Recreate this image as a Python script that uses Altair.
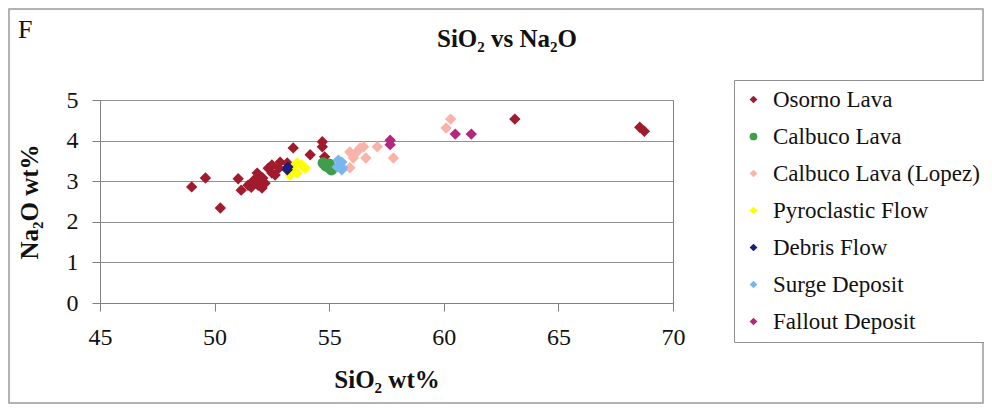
import altair as alt
import pandas as pd

SERIF = "Liberation Serif, Times New Roman, serif"

series = ["Osorno Lava", "Calbuco Lava", "Calbuco Lava (Lopez)", "Pyroclastic Flow",
          "Debris Flow", "Surge Deposit", "Fallout Deposit"]
colors = ["#A01B2D", "#3F9E4B", "#F9B3A9", "#FFFF00", "#1C1F78", "#7AB6EE", "#B2287C"]
shapes = ["diamond", "circle", "diamond", "diamond", "diamond", "diamond", "diamond"]

osorno_sio2 = [49.0, 49.6, 50.25, 51.03, 51.16, 51.46, 51.6, 51.7, 51.86, 51.9, 52.0, 52.07,
               52.1, 52.2, 52.34, 52.5, 52.5, 52.64, 52.8, 52.86, 53.17, 53.43, 54.17, 54.7,
               54.7, 54.8, 63.1, 68.55, 68.75]
osorno_na2o = [2.86, 3.08, 2.34, 3.06, 2.78, 2.9, 2.85, 3.02, 3.2, 2.9, 3.1, 2.83,
               3.08, 2.95, 3.32, 3.4, 3.2, 3.15, 3.32, 3.47, 3.45, 3.82, 3.65, 3.97,
               3.85, 3.6, 4.53, 4.33, 4.23]

calbuco_sio2 = [54.74, 54.85, 54.96, 55.0, 55.1]
calbuco_na2o = [3.45, 3.38, 3.35, 3.42, 3.28]

lopez_sio2 = [55.9, 55.9, 56.05, 56.2, 56.35, 56.5, 56.6, 57.1, 57.8, 60.1, 60.3]
lopez_na2o = [3.33, 3.72, 3.57, 3.72, 3.82, 3.85, 3.57, 3.85, 3.57, 4.31, 4.53]

pyro_sio2 = [53.3, 53.43, 53.6, 53.6, 53.8, 53.95]
pyro_na2o = [3.15, 3.35, 3.2, 3.45, 3.4, 3.32]

debris_sio2 = [53.17, 53.2]
debris_na2o = [3.28, 3.35]

surge_sio2 = [55.35, 55.4, 55.55, 55.55, 55.57]
surge_na2o = [3.35, 3.52, 3.47, 3.28, 3.33]

fallout_sio2 = [57.66, 57.66, 60.5, 61.2]
fallout_na2o = [4.01, 3.9, 4.16, 4.16]

chart_title = "SiO₂ vs Na₂O"
panel_letter = "F"

groups = [
    (series[0], osorno_sio2, osorno_na2o),
    (series[1], calbuco_sio2, calbuco_na2o),
    (series[2], lopez_sio2, lopez_na2o),
    (series[3], pyro_sio2, pyro_na2o),
    (series[4], debris_sio2, debris_na2o),
    (series[5], surge_sio2, surge_na2o),
    (series[6], fallout_sio2, fallout_na2o),
]
rows = []
for i, (name, xs, ys) in enumerate(groups):
    for x, y in zip(xs, ys):
        rows.append({"series": name, "sio2": x, "na2o": y, "order": i})
df = pd.DataFrame(rows)

W, H = 573, 203
PAD_L, PAD_T, PAD_R, PAD_B = 92, 92, 311, 101

points = alt.Chart(df).mark_point(filled=True, size=130, opacity=1).encode(
    x=alt.X("sio2:Q",
            scale=alt.Scale(domain=[45, 70], nice=False, zero=False),
            axis=alt.Axis(values=[45, 50, 55, 60, 65, 70], title="SiO₂ wt%", grid=False,
                          labelFlush=False, labelPadding=14, titlePadding=18)),
    y=alt.Y("na2o:Q",
            scale=alt.Scale(domain=[0, 5], nice=False),
            axis=alt.Axis(values=[0, 1, 2, 3, 4, 5], title="Na₂O wt%", grid=True,
                          labelFlush=False, labelPadding=14, titlePadding=24)),
    color=alt.Color("series:N", scale=alt.Scale(domain=series, range=colors), title=None),
    shape=alt.Shape("series:N", scale=alt.Scale(domain=series, range=shapes), title=None),
    order=alt.Order("order:Q"),
)

frame = alt.Chart(pd.DataFrame({"k": [0]})).mark_rect(
    fill="transparent", stroke="#9a9a9a", strokeWidth=1.5
).encode(
    x=alt.value(-PAD_L + 1), x2=alt.value(W + PAD_R - 1),
    y=alt.value(-PAD_T + 1), y2=alt.value(H + PAD_B - 1),
)

letter = alt.Chart(pd.DataFrame({"t": [panel_letter]})).mark_text(
    font=SERIF, fontSize=26, align="left", baseline="alphabetic", color="#111"
).encode(text="t:N", x=alt.value(-82), y=alt.value(-62))

title = alt.Chart(pd.DataFrame({"t": [chart_title]})).mark_text(
    font=SERIF, fontSize=25, fontWeight="bold", align="center", baseline="alphabetic",
    color="#111"
).encode(text="t:N", x=alt.value(407), y=alt.value(-53))

chart = alt.layer(frame, points, letter, title).properties(
    width=W, height=H,
    padding={"left": PAD_L, "top": PAD_T, "right": PAD_R, "bottom": PAD_B},
    autosize=alt.AutoSizeParams(type="none"),
).configure_view(
    stroke="#808080", strokeWidth=1
).configure_axis(
    labelFont=SERIF, labelFontSize=24, labelColor="#111",
    titleFont=SERIF, titleFontSize=25, titleFontWeight="bold", titleColor="#111",
    domainColor="#808080", tickColor="#808080", gridColor="#909090",
    tickSize=8, domainWidth=1, gridWidth=1,
).configure_legend(
    orient="none", legendX=634, legendY=-20,
    labelFont=SERIF, labelFontSize=23, labelColor="#111", labelLimit=400,
    symbolSize=60, labelOffset=8, rowPadding=13, padding=8,
    strokeColor="#909090", fillColor="white", symbolStrokeWidth=0,
)

chart.save("out.html", embed_options={"renderer": "svg", "actions": False})
